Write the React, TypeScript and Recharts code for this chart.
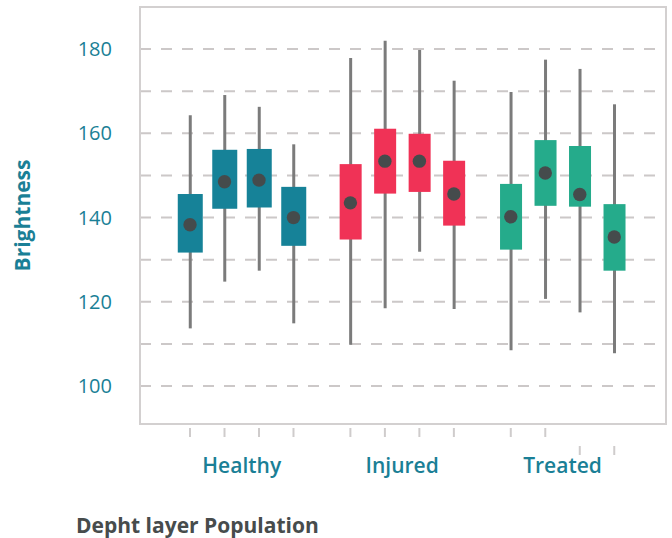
import {
  ComposedChart,
  Bar,
  Scatter,
  XAxis,
  YAxis,
  CartesianGrid,
  ReferenceArea,
  Cell,
} from "recharts";

const GROUPS = ["Healthy", "Injured", "Treated"];
const GROUP_COLORS = ["#168298", "#F03256", "#25AB8B"];
const LAYERS_PER_GROUP = 4;

// one entry per box, left to right
const WHISKER_LOW = [113.7, 124.8, 127.4, 114.9, 109.8, 118.5, 131.9, 118.3, 108.5, 120.7, 117.5, 107.8];
const Q1 = [131.7, 142.1, 142.4, 133.3, 134.8, 145.7, 146.1, 138.1, 132.4, 142.8, 142.6, 127.4];
const Q3 = [145.6, 156.1, 156.3, 147.3, 152.7, 161.1, 159.9, 153.5, 148.0, 158.4, 157.0, 143.2];
const WHISKER_HIGH = [164.3, 169.1, 166.3, 157.4, 177.9, 182.0, 179.8, 172.5, 169.8, 177.5, 175.3, 166.9];
const MEAN = [138.3, 148.5, 148.9, 140.0, 143.5, 153.4, 153.4, 145.6, 140.2, 150.6, 145.5, 135.4];

const Y_TICKS = [100, 110, 120, 130, 140, 150, 160, 170, 180];
const Y_DOMAIN: [number, number] = [91, 190];

// horizontal layout in x-axis units (one unit = distance between neighbouring boxes)
const GROUP_STEP = 4.65;
const X_DOMAIN: [number, number] = [-1.45, 13.8];

const TEAL = "#1A7F96";
const FONT = "'Open Sans', sans-serif";

const rows = MEAN.map((m, i) => {
  const group = Math.floor(i / LAYERS_PER_GROUP);
  const layer = i % LAYERS_PER_GROUP;
  return {
    pos: group * GROUP_STEP + layer,
    group,
    whisker: [WHISKER_LOW[i], WHISKER_HIGH[i]],
    box: [Q1[i], Q3[i]],
    mean: m,
  };
});

const groupCenters = GROUPS.map((_, g) => g * GROUP_STEP + (LAYERS_PER_GROUP - 1) / 2);

const TickMark = ({ x, y, index }: any) => {
  // the last two marks sit a bit lower in the original
  const shift = index >= 10 ? 18 : 0;
  return (
    <line x1={x} x2={x} y1={y + 4 + shift} y2={y + 13 + shift} stroke="#cfcccc" strokeWidth={2} />
  );
};

const GroupLabel = ({ x, y, payload, index }: any) => (
  <text
    x={x}
    y={y + 19}
    textAnchor="middle"
    fill={TEAL}
    fontSize={21}
    fontWeight={600}
    fontFamily={FONT}
  >
    {GROUPS[index] ?? payload.value}
  </text>
);

const BoxShape = (props: any) => {
  const { x, y, width, height, fill, payload } = props;
  const w = payload.group === 0 ? 25 : 22;
  return <rect x={x + (width - w) / 2} y={y} width={w} height={height} fill={fill} />;
};

export default function App() {
  return (
    <div style={{ position: "absolute", left: 0, top: 0, width: 672, height: 538 }}>
      <ComposedChart
        width={672}
        height={538}
        data={rows}
        margin={{ top: 7, right: 6, bottom: 34, left: 0 }}
      >
        <CartesianGrid
          vertical={false}
          strokeDasharray="11 10"
          stroke="#ccc8c8"
          strokeWidth={2}
          xAxisId="a"
        />
        <ReferenceArea
          xAxisId="a"
          x1={X_DOMAIN[0]}
          x2={X_DOMAIN[1]}
          y1={Y_DOMAIN[0]}
          y2={Y_DOMAIN[1]}
          fill="none"
          fillOpacity={0}
          stroke="#d3d0d0"
          strokeWidth={2}
          ifOverflow="visible"
        />
        {/* group names: second row under the plot */}
        <XAxis
          xAxisId="b"
          dataKey="pos"
          type="number"
          domain={X_DOMAIN}
          ticks={groupCenters}
          axisLine={false}
          tickLine={false}
          tickSize={0}
          tickMargin={0}
          height={50}
          tick={<GroupLabel />}
          interval={0}
        />
        {/* tick marks: first row under the plot */}
        <XAxis
          xAxisId="a"
          dataKey="pos"
          type="number"
          domain={X_DOMAIN}
          ticks={rows.map((r) => r.pos)}
          axisLine={false}
          tickLine={false}
          tickSize={0}
          tickMargin={0}
          height={30}
          tick={<TickMark />}
          interval={0}
        />
        <XAxis xAxisId="w" dataKey="pos" type="number" domain={X_DOMAIN} hide />
        <YAxis
          type="number"
          domain={Y_DOMAIN}
          ticks={Y_TICKS}
          width={140}
          axisLine={false}
          tickLine={false}
          tickSize={0}
          tickMargin={28}
          interval={0}
          tickFormatter={(v: number) => (v % 20 === 0 ? String(v) : "")}
          tick={{ fill: TEAL, fontSize: 20, fontFamily: FONT }}
          label={{
            value: "Brightness",
            angle: -90,
            position: "insideLeft",
            offset: 23,
            style: {
              textAnchor: "middle",
              fill: TEAL,
              fontSize: 21,
              fontWeight: 700,
              fontFamily: FONT,
            },
          }}
        />
        <Bar
          xAxisId="w"
          dataKey="whisker"
          barSize={3}
          fill="#7b7b7b"
          isAnimationActive={false}
        />
        <Bar
          xAxisId="a"
          dataKey="box"
          barSize={25}
          shape={<BoxShape />}
          isAnimationActive={false}
        >
          {rows.map((r, i) => (
            <Cell key={i} fill={GROUP_COLORS[r.group]} />
          ))}
        </Bar>
        <Scatter
          xAxisId="a"
          dataKey="mean"
          fill="#454b4c"
          shape={(p: any) => <circle cx={p.cx} cy={p.cy} r={6.7} fill="#454b4c" />}
          isAnimationActive={false}
        />
      </ComposedChart>
      <div
        style={{
          position: "absolute",
          left: 76,
          top: 511,
          fontFamily: FONT,
          fontSize: 21,
          fontWeight: 700,
          color: "#474c4c",
          whiteSpace: "nowrap",
        }}
      >
        Depht layer Population
      </div>
    </div>
  );
}
